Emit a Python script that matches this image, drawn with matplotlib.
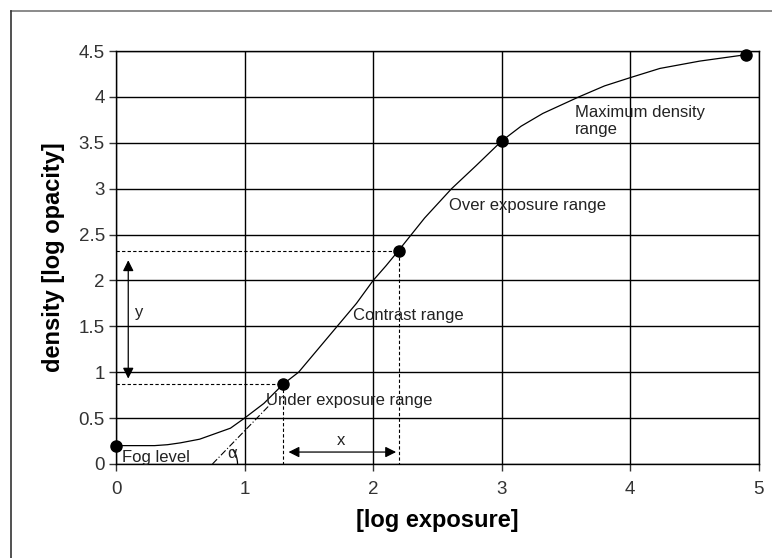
import matplotlib.pyplot as plt
from matplotlib.patches import Arc
from matplotlib.lines import Line2D

# characteristic curve
log_exposure = [0.0, 0.15, 0.3, 0.4, 0.5, 0.65, 0.75, 0.89, 1.0, 1.15, 1.3, 1.42, 1.57, 1.72, 1.87,
                2.0, 2.1, 2.2, 2.4, 2.61, 2.8, 3.0, 3.15, 3.32, 3.6, 3.8, 4.0, 4.23, 4.54, 4.9]
density = [0.2, 0.2, 0.2, 0.21, 0.23, 0.27, 0.32, 0.39, 0.5, 0.66, 0.87, 1.0, 1.25, 1.5, 1.75,
           2.0, 2.16, 2.33, 2.68, 3.0, 3.25, 3.52, 3.68, 3.82, 4.0, 4.12, 4.21, 4.31, 4.39, 4.46]

# marked points
mark_x = [0.0, 1.3, 2.2, 3.0, 4.9]
mark_y = [0.2, 0.87, 2.32, 3.52, 4.46]

# tangent line through the contrast range
tangent_x = [0.75, 1.2]
tangent_y = [0.0, 0.65]

x_ticks = [0, 1, 2, 3, 4, 5]
y_ticks = [0, 0.5, 1, 1.5, 2, 2.5, 3, 3.5, 4, 4.5]
y_tick_labels = ['0', '0.5', '1', '1.5', '2', '2.5', '3', '3.5', '4', '4.5']

plt.rcParams['font.family'] = ['Liberation Sans', 'DejaVu Sans']

fig = plt.figure(figsize=(7.72, 5.58), dpi=100)
ax = fig.add_axes([0.1503, 0.1685, 0.8327, 0.7401])

# outer frame (only top and left visible in the original)
fig.add_artist(Line2D([0.0142, 1.0], [0.980, 0.980], transform=fig.transFigure, color='#777777', lw=1.2))
fig.add_artist(Line2D([0.0142, 0.0142], [0.0, 0.980], transform=fig.transFigure, color='#333333', lw=1.2))

ax.plot(log_exposure, density, color='black', lw=0.9)
ax.plot(mark_x, mark_y, 'o', color='black', ms=8, clip_on=False, zorder=5)

# tangent and angle
ax.plot(tangent_x, tangent_y, color='black', lw=0.8, ls=(0, (6, 2, 1, 2)))
ax.add_patch(Arc((0.75, 0.0), 0.39, 0.54, theta1=0, theta2=46, color='black', lw=0.9))

txt = dict(fontsize=12, color='#222222')
ax.text(0.9, 0.03, '\u03b1', ha='center', va='bottom', **txt)

# dashed helper lines
ax.plot([0, 2.2, 2.2], [2.32, 2.32, 0], color='black', lw=0.8, ls=(0, (3, 2)))
ax.plot([0, 1.3, 1.3], [0.87, 0.87, 0], color='black', lw=0.8, ls=(0, (3, 2)))

# dimension arrows
ax.annotate('', xy=(0.095, 2.25), xytext=(0.095, 0.9),
            arrowprops=dict(arrowstyle='<|-|>', color='black', lw=0.9, mutation_scale=16))
ax.annotate('', xy=(1.32, 0.13), xytext=(2.2, 0.13),
            arrowprops=dict(arrowstyle='<|-|>', color='black', lw=0.9, mutation_scale=16))
ax.text(0.15, 1.65, 'y', ha='left', va='center', **txt)
ax.text(1.75, 0.26, 'x', ha='center', va='center', **txt)

# range labels
ax.text(0.05, 0.07, 'Fog level', ha='left', va='center', **txt)
ax.text(1.17, 0.69, 'Under exposure range', ha='left', va='center', **txt)
ax.text(1.84, 1.62, 'Contrast range', ha='left', va='center', **txt)
ax.text(2.59, 2.82, 'Over exposure range', ha='left', va='center', **txt)
ax.text(3.57, 3.74, 'Maximum density\nrange', ha='left', va='center', linespacing=1.2, **txt)

ax.set_xlim(0, 5)
ax.set_ylim(0, 4.5)
ax.set_xticks(x_ticks)
ax.set_yticks(y_ticks)
ax.set_yticklabels(y_tick_labels)
ax.tick_params(labelsize=13.5, colors='#333333', length=5, width=1, pad=3)
ax.tick_params(axis='x', pad=7)
ax.grid(True, color='black', lw=1)
for s in ax.spines.values():
    s.set_linewidth(1)
ax.set_xlabel('[log exposure]', fontsize=17, fontweight='bold', labelpad=8)
ax.set_ylabel('density [log opacity]', fontsize=17, fontweight='bold', labelpad=10)

fig.savefig('out.png', dpi=100)
